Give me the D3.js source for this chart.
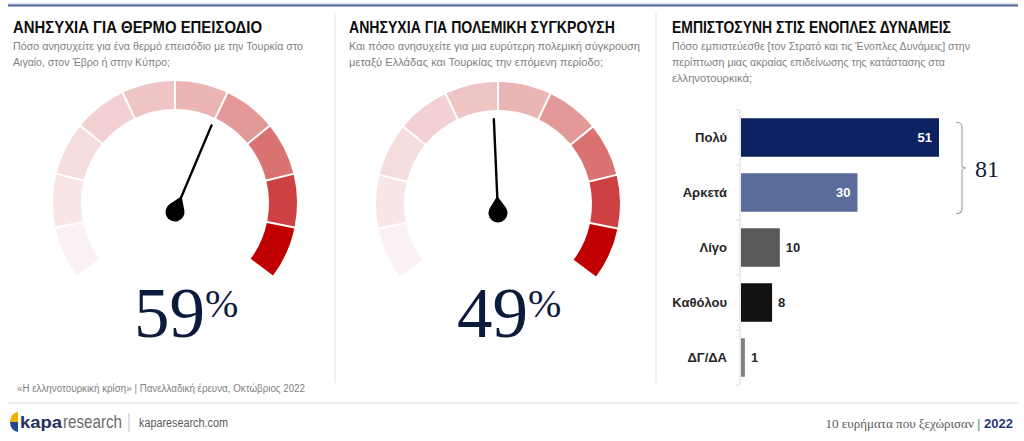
<!DOCTYPE html>
<html><head><meta charset="utf-8">
<script src="https://cdn.jsdelivr.net/npm/d3@7/dist/d3.min.js"></script>
<style>
body{margin:0;background:#fff;}
svg{display:block;}
</style></head>
<body>
<svg id="chart" width="1024" height="441"></svg>
<script>
// ---- data ----
const gaugeTitles = ["ΑΝΗΣΥΧΙΑ ΓΙΑ ΘΕΡΜΟ ΕΠΕΙΣΟΔΙΟ", "ΑΝΗΣΥΧΙΑ ΓΙΑ ΠΟΛΕΜΙΚΗ ΣΥΓΚΡΟΥΣΗ"];
const gaugeSubtitles = [
  ["Πόσο ανησυχείτε για ένα θερμό επεισόδιο με την Τουρκία στο", "Αιγαίο, στον Έβρο ή στην Κύπρο;"],
  ["Και πόσο ανησυχείτε για μια ευρύτερη πολεμική σύγκρουση", "μεταξύ Ελλάδας και Τουρκίας την επόμενη περίοδο;"]
];
const gaugeValues = [59, 49];
const gaugeSegmentColors = ["#fbf1f2","#f8e6e7","#f5dcdd","#f3d0d1","#efc4c5","#ebb5b5","#e49999","#da7272","#ce4142","#c00000"];

const barTitle = "ΕΜΠΙΣΤΟΣΥΝΗ ΣΤΙΣ ΕΝΟΠΛΕΣ ΔΥΝΑΜΕΙΣ";
const barSubtitle = ["Πόσο εμπιστεύεσθε [τον Στρατό και τις Ένοπλες Δυνάμεις] στην",
  "περίπτωση μιας ακραίας επιδείνωσης της κατάστασης στα", "ελληνοτουρκικά;"];
const barCategories = ["Πολύ", "Αρκετά", "Λίγο", "Καθόλου", "ΔΓ/ΔΑ"];
const barValues = [51, 30, 10, 8, 1];
const barColors = ["#0b2160", "#5a6d9a", "#595959", "#111111", "#808080"];
const bracketTotal = "81";

const sourceText = "«Η ελληνοτουρκική κρίση» | Πανελλαδική έρευνα, Οκτώβριος 2022";
const footerRight = ["10 ευρήματα που ξεχώρισαν", "|", "2022"];

// ---- drawing ----
const svg = d3.select("#chart");
const sans = "'Liberation Sans',Arial,sans-serif";
const serif = "'Liberation Serif','Times New Roman',serif";
const navy = "#0c1a3c";

// squeeze text to a measured width (simulates the narrow face of the original)
function fit(sel, w){ sel.attr("textLength", w).attr("lengthAdjust","spacingAndGlyphs"); return sel; }

// top rule
svg.append("line").attr("x1",8).attr("x2",1018).attr("y1",4).attr("y2",4)
  .attr("stroke","#b9c3d8").attr("stroke-width",1);
svg.append("line").attr("x1",8).attr("x2",1018).attr("y1",5.5).attr("y2",5.5)
  .attr("stroke","#4f6593").attr("stroke-width",2);

// separators
[335, 656].forEach(x => svg.append("line").attr("x1",x).attr("x2",x).attr("y1",13).attr("y2",383)
  .attr("stroke","#e3e3e3").attr("stroke-width",1));

// footer rule
svg.append("line").attr("x1",8).attr("x2",1018).attr("y1",403).attr("y2",403)
  .attr("stroke","#ececec").attr("stroke-width",2);

function header(x, title, tw, lines, lw){
  fit(svg.append("text").attr("x",x).attr("y",33).text(title)
    .attr("font-family",sans).attr("font-weight","bold").attr("font-size",16.5).attr("fill","#0d0d0d"), tw);
  lines.forEach((l,i)=>fit(svg.append("text").attr("x",x).attr("y",50+i*16).text(l)
    .attr("font-family",sans).attr("font-size",11.5).attr("fill","#7f7f7f"), lw[i]));
}
header(13, gaugeTitles[0], 249, gaugeSubtitles[0], [290, 157]);
header(349, gaugeTitles[1], 266, gaugeSubtitles[1], [291, 254]);
header(672, barTitle, 279, barSubtitle, [298, 273, 80]);

// gauges
const gaugePivots = [[175,212],[498,213]];
const arcDrop = 9; // arc centre sits a little above the needle pivot
const angle = d3.scaleLinear().domain([0,100]).range([-127*Math.PI/180, 127*Math.PI/180]);
const segIdx = d3.range(gaugeSegmentColors.length);
const segScale = d3.scaleLinear().domain([0, segIdx.length]).range([0,100]);
const arc = d3.arc().innerRadius(94).outerRadius(122).padAngle(0.013);

gaugeValues.forEach((v,gi)=>{
  const [cx,cy] = gaugePivots[gi];
  const g = svg.append("g").attr("transform",`translate(${cx},${cy-arcDrop})`);
  g.selectAll("path.seg").data(segIdx).join("path").attr("class","seg")
    .attr("d", i => arc({startAngle: angle(segScale(i)), endAngle: angle(segScale(i+1))}))
    .attr("fill", i => gaugeSegmentColors[i]);
  const deg = angle(v)*180/Math.PI;
  const n = svg.append("g").attr("transform",`translate(${cx},${cy}) rotate(${deg})`);
  n.append("line").attr("x1",0).attr("y1",-10).attr("x2",0).attr("y2",-94)
    .attr("stroke","#000").attr("stroke-width",2.4).attr("stroke-linecap","round");
  n.append("path").attr("d","M0,-17 L7.9,-5.3 A9.5,9.5 0 1 1 -7.9,-5.3 Z").attr("fill","#000");
  // big value
  const t = svg.append("text").attr("x", cx - 41).attr("y", 337)
    .attr("font-family",serif).attr("fill",navy);
  t.append("tspan").attr("font-size",71).text(v);
  t.append("tspan").attr("font-size",40).attr("dy",-20).text("%");
});

// bar chart
const x = d3.scaleLinear().domain([0, 51]).range([741, 939]);
const y = d3.scaleBand().domain(barCategories).range([110, 385]).paddingInner(0.3).paddingOuter(0.15);
svg.append("line").attr("x1",740).attr("x2",740).attr("y1",110).attr("y2",385)
  .attr("stroke","#d9d9d9").attr("stroke-width",1);
const step = y.step();
d3.range(barCategories.length+1).forEach(i=>{
  const yy = 110 + i*step;
  svg.append("line").attr("x1",736).attr("x2",740).attr("y1",yy).attr("y2",yy)
    .attr("stroke","#d9d9d9").attr("stroke-width",1);
});
const bars = svg.append("g");
bars.selectAll("rect").data(barValues).join("rect")
  .attr("x", x(0)).attr("y",(d,i)=>y(barCategories[i]))
  .attr("width", d => x(d)-x(0)).attr("height", y.bandwidth())
  .attr("fill",(d,i)=>barColors[i]);
bars.selectAll("text.cat").data(barCategories).join("text").attr("class","cat")
  .attr("x",727).attr("y",d=>y(d)+y.bandwidth()/2).attr("dy","0.35em")
  .attr("text-anchor","end").attr("font-family",sans).attr("font-weight","bold")
  .attr("font-size",13).attr("fill","#262626").text(d=>d);
bars.selectAll("text.val").data(barValues).join("text").attr("class","val")
  .attr("x",(d,i)=> i<2 ? x(d)-7 : x(d)+6)
  .attr("y",(d,i)=>y(barCategories[i])+y.bandwidth()/2).attr("dy","0.35em")
  .attr("text-anchor",(d,i)=> i<2 ? "end" : "start")
  .attr("font-family",sans).attr("font-weight","bold").attr("font-size",13)
  .attr("fill",(d,i)=> i<2 ? "#fff" : "#262626").text(d=>d);

// bracket
const bTop = y(barCategories[0]) + 4, bBot = y(barCategories[1]) + y.bandwidth() + 2;
const bMid = (bTop+bBot)/2;
const bx = 962;
svg.append("path")
  .attr("d",`M${bx-6},${bTop} Q${bx},${bTop} ${bx},${bTop+5} L${bx},${bMid-3} Q${bx},${bMid} ${bx+4},${bMid} Q${bx},${bMid} ${bx},${bMid+3} L${bx},${bBot-5} Q${bx},${bBot} ${bx-6},${bBot}`)
  .attr("fill","none").attr("stroke","#a6a6a6").attr("stroke-width",1.2);
svg.append("text").attr("x",975).attr("y",bMid+9).text(bracketTotal)
  .attr("font-family",serif).attr("font-size",24).attr("fill",navy);

// footer
fit(svg.append("text").attr("x",17).attr("y",392).text(sourceText)
  .attr("font-family",sans).attr("font-size",10).attr("fill","#7f7f7f"), 288);
// logo
const lg = svg.append("g").attr("transform","translate(10,412)");
lg.append("path").attr("d","M8,0 A8,10 0 0 0 0,10 L8,10 Z").attr("fill","#f2b200");
lg.append("path").attr("d","M8,10 L0,10 A8,10 0 0 0 8,20 Z").attr("fill","#1f4b94");
fit(lg.append("text").attr("x",10).attr("y",16).attr("font-family",sans).attr("font-size",17)
  .attr("font-weight","bold").attr("fill","#24305e").text("kapa"), 42);
fit(lg.append("text").attr("x",53).attr("y",16).attr("font-family",sans).attr("font-size",19)
  .attr("font-weight","normal").attr("fill","#6b6b6b").text("research"), 59);
svg.append("line").attr("x1",129).attr("x2",129).attr("y1",413).attr("y2",432).attr("stroke","#bfbfbf");
fit(svg.append("text").attr("x",139).attr("y",427).text("kaparesearch.com")
  .attr("font-family",sans).attr("font-size",12).attr("fill","#595959"), 89);
const fr = svg.append("text").attr("x",1013).attr("y",428).attr("text-anchor","end")
  .attr("font-family",serif).attr("font-size",13);
fr.append("tspan").attr("fill","#595959").text(footerRight[0]+" ");
fr.append("tspan").attr("fill","#4e9a6a").attr("font-family",sans).text(footerRight[1]);
fr.append("tspan").attr("fill","#1f3a7a").attr("font-weight","bold").attr("font-family",sans).text(" "+footerRight[2]);
</script>
</body></html>
